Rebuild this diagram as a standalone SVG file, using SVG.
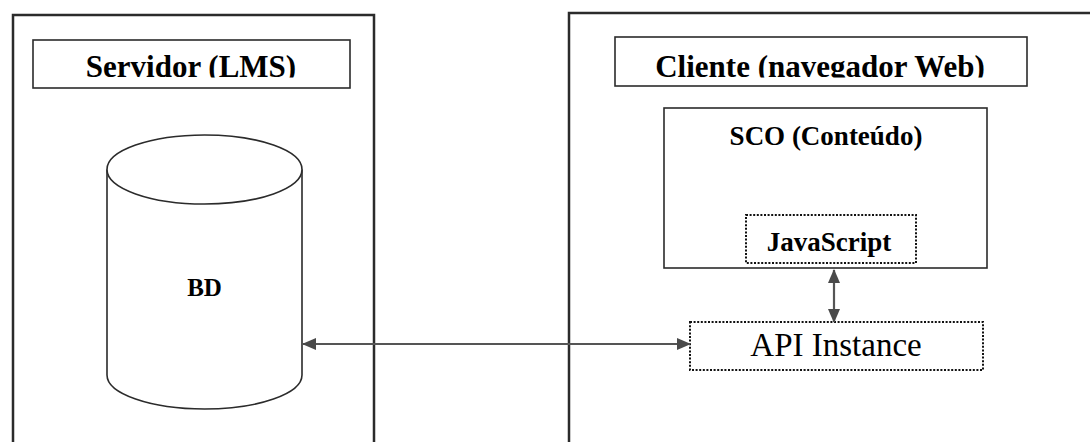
<svg xmlns="http://www.w3.org/2000/svg" width="1090" height="442" viewBox="0 0 1090 442">
  <style>
    .frame { fill: none; stroke: #2b2b2b; stroke-width: 2.5; }
    .box { fill: #fff; stroke: #2b2b2b; stroke-width: 1.6; }
    .dotted { fill: #fff; stroke: #111; stroke-width: 2; stroke-dasharray: 2 1.6; }
    .title { font-family: "Liberation Serif", "Times New Roman", serif; font-weight: bold; font-size: 31px; fill: #000; text-anchor: middle; }
    .label { font-family: "Liberation Serif", "Times New Roman", serif; font-weight: bold; font-size: 27px; fill: #000; text-anchor: middle; }
    .plain { font-family: "Liberation Serif", "Times New Roman", serif; font-size: 33px; fill: #000; text-anchor: middle; }
    .link { fill: none; stroke: #555; stroke-width: 2.2; }
  </style>
  <defs>
    <marker id="head" viewBox="0 0 14 12" refX="13" refY="6" markerWidth="14" markerHeight="12" markerUnits="userSpaceOnUse" orient="auto-start-reverse">
      <path d="M0,0 L14,6 L0,12 Z" fill="#4a4a4a"/>
    </marker>
    <clipPath id="cutServidor"><rect x="33" y="40" width="317" height="37.5"/></clipPath>
    <clipPath id="cutCliente"><rect x="615" y="37" width="412" height="40.5"/></clipPath>
  </defs>
  <rect width="1090" height="442" fill="#fff"/>

  <!-- server side -->
  <g id="servidor">
    <path class="frame" d="M13,442 L13,15 L374,15 L374,442"/>
    <rect class="box" x="33" y="40" width="317" height="48"/>
    <text class="title" x="191" y="77" clip-path="url(#cutServidor)">Servidor (LMS)</text>
  </g>

  <g id="bd">
    <path class="box" d="M107,169.5 L107,375 A97.5,34 0 0 0 302,375 L302,169.5"/>
    <ellipse class="box" cx="204.5" cy="169.5" rx="97.5" ry="34.5"/>
    <text class="label" x="204.5" y="296" style="font-size:25px">BD</text>
  </g>

  <!-- client side -->
  <g id="cliente">
    <path class="frame" d="M569,442 L569,13 L1090,13"/>
    <rect class="box" x="615" y="37" width="412" height="49"/>
    <text class="title" x="820" y="77" clip-path="url(#cutCliente)">Cliente (navegador Web)</text>
  </g>

  <g id="sco">
    <rect class="box" x="664" y="108" width="323" height="160"/>
    <text class="label" x="826" y="145">SCO (Conteúdo)</text>
  </g>

  <g id="javascript">
    <rect class="dotted" x="746" y="215" width="170" height="48"/>
    <text class="label" x="829" y="251">JavaScript</text>
  </g>

  <g id="api">
    <rect class="dotted" x="690" y="322" width="293" height="48"/>
    <text class="plain" x="836" y="356">API Instance</text>
  </g>

  <!-- connectors -->
  <g id="connectors">
    <line class="link" x1="303" y1="344" x2="690" y2="344" marker-start="url(#head)" marker-end="url(#head)"/>
    <line class="link" x1="834" y1="270" x2="834" y2="322" marker-start="url(#head)" marker-end="url(#head)"/>
  </g>
</svg>
